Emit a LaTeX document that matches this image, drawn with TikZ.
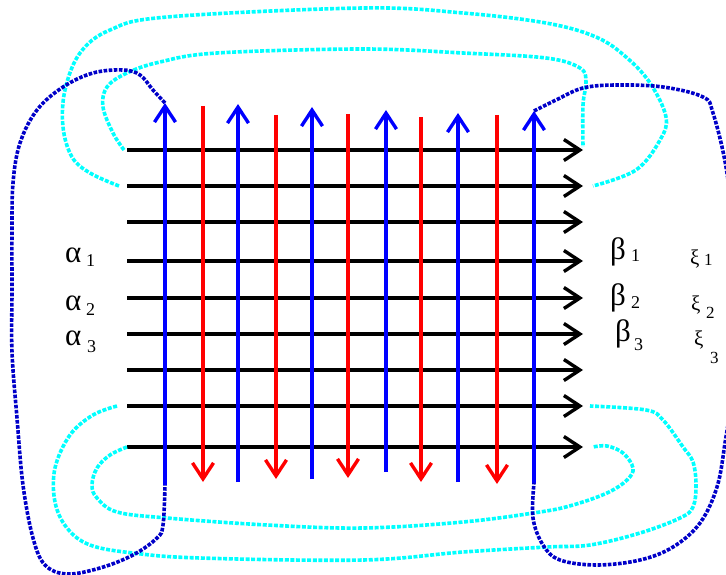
\documentclass[tikz,border=0pt]{standalone}
\usepackage{fontspec}
\setmainfont{Liberation Serif}
\usetikzlibrary{arrows.meta}
\definecolor{cyanline}{RGB}{0,255,255}
\definecolor{navyline}{RGB}{0,0,200}
\definecolor{blueline}{RGB}{0,0,255}
\definecolor{redline}{RGB}{255,0,0}
\begin{document}
\begin{tikzpicture}[x=1pt,y=-1pt,
  barb/.style={line width=3.4pt,-{Straight Barb[length=16pt,width=21pt]}},
  hline/.style={barb,black},
  upline/.style={barb,blueline},
  downline/.style={barb,redline},
  cyanloop/.style={cyanline,line width=3.6pt,dash pattern=on 4pt off 1.6pt},
  navyloop/.style={navyline,line width=3.6pt,dash pattern=on 3.6pt off 1.5pt},
  greek/.style={inner sep=0pt,anchor=base west,font=\fontsize{31}{33}\selectfont},
  idx/.style={inner sep=0pt,anchor=base west,font=\fontsize{18}{20}\selectfont},
  xig/.style={inner sep=0pt,anchor=base west,font=\fontsize{21}{23}\selectfont},
  xidx/.style={inner sep=0pt,anchor=base west,font=\fontsize{17}{19}\selectfont}]
\useasboundingbox (0,0) rectangle (726,575);
\clip (0,0) rectangle (726,575);

% horizontal black arrows
\foreach \i/\y in {1/150,2/186,3/222,4/261,5/298,6/334,7/370,8/406,9/447}{
  \coordinate (L\i) at (127,\y);
  \coordinate (R\i) at (583,\y);
  \draw[hline] (L\i) -- (R\i);
}
% blue upward arrows
\foreach \i/\x/\b/\t in {1/165/485/103,2/238/482/104,3/312/479/107,4/386/472/110,5/458/482/113,6/534/483/111}{
  \coordinate (B\i b) at (\x,\b);
  \coordinate (B\i t) at (\x,\t);
  \draw[upline] (B\i b) -- (B\i t);
}
% red downward arrows
\foreach \i/\x/\t/\b in {1/203/106/482,2/276/115/479,3/348/114/478,4/421/117/482,5/497/115/484}{
  \coordinate (D\i t) at (\x,\t);
  \coordinate (D\i b) at (\x,\b);
  \draw[downline] (D\i t) -- (D\i b);
}

% cyan loops
\draw[cyanloop] plot[smooth,tension=0.6] coordinates {([xshift=-8pt]L2) (90,173) (72,157) (63,127) (65,90) (80,53) (110,30) (167,17) (363,8) (463,13) (546,23) (596,37) (626,57) (650,83) (666,117) (660,140) (636,170) ([xshift=10pt]R2)};
\draw[cyanloop] plot[smooth,tension=0.6] coordinates {([xshift=-3pt]L1) (113,133) (103,107) (107,87) (127,73) (160,62) (217,53) (363,49) (463,53) (546,58) (580,68) (586,82) (583,105) ([yshift=3pt]R1)};
\draw[cyanloop] plot[smooth,tension=0.6] coordinates {(L9) (110,455) (97,468) (92,485) (97,498) (117,512) (167,518) (267,525) (363,528) (463,522) (540,512) (573,505) (607,493) (627,480) (633,468) (623,453) (607,446) ([xshift=10pt]R9)};
\draw[cyanloop] plot[smooth,tension=0.6] coordinates {([xshift=-10pt]L8) (93,415) (70,435) (55,468) (55,502) (67,528) (90,545) (133,553) (200,558) (363,560) (463,552) (547,547) (590,545) (640,533) (680,518) (693,507) (696,485) (693,462) (683,447) (663,420) (646,410) ([xshift=7pt]R8)};

% dark blue loops
\draw[navyloop] plot[smooth,tension=0.6] coordinates {(B1t) (153,90) (140,75) (123,70) (93,73) (63,87) (37,110) (20,143) (13,183) (12,233) (12,290) (12,352) (17,418) (23,485) (33,538) (45,565) (67,574) (100,568) (133,555) (157,538) (163,525) (B1b)};
\draw[navyloop] plot[smooth,tension=0.6] coordinates {(B6t) (556,100) (583,88) (616,85) (663,87) (703,97) (713,113) (726,167) (733,230) (735,300) (732,390) (725,443) (717,487) (700,523) (673,547) (640,560) (597,565) (560,560) (543,545) (533,518) (B6b)};

% labels
\node[greek] (a1) at (65,262) {α};
\node[idx] (a1i) at (86,266) {1};
\node[greek] (a2) at (65,310) {α};
\node[idx] (a2i) at (86,315) {2};
\node[greek] (a3) at (65,345) {α};
\node[idx] (a3i) at (87,352) {3};

\node[greek] (b1) at (610,259) {β};
\node[idx] (b1i) at (631,261) {1};
\node[greek] (b2) at (610,305) {β};
\node[idx] (b2i) at (631,308) {2};
\node[greek] (b3) at (615,341) {β};
\node[idx] (b3i) at (634,350) {3};

\node[xig] (x1) at (690,264) {ξ};
\node[xidx] (x1i) at (704,265) {1};
\node[xig] (x2) at (691,310) {ξ};
\node[xidx] (x2i) at (706,318) {2};
\node[xig] (x3) at (694,345) {ξ};
\node[xidx] (x3i) at (710,363) {3};
\end{tikzpicture}
\end{document}
